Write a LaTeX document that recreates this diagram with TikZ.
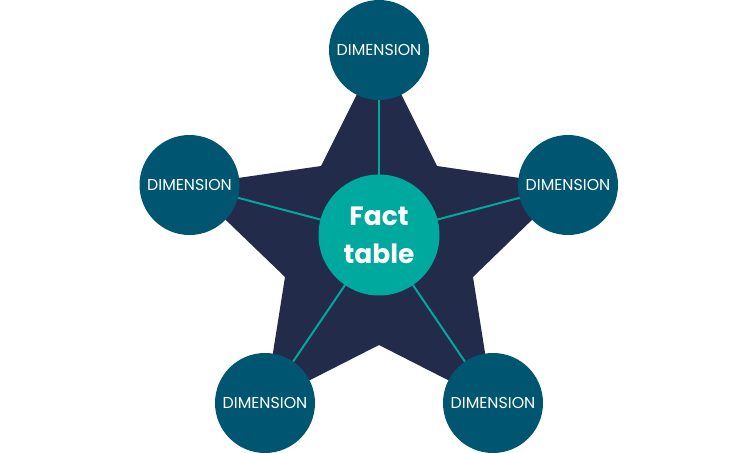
\documentclass[tikz,border=0pt]{standalone}
\usepackage{fontspec}
\setmainfont{Poppins}
\usetikzlibrary{backgrounds}
\definecolor{starnavy}{HTML}{232B4A}
\definecolor{dimblue}{HTML}{005670}
\definecolor{factteal}{HTML}{00A99D}
\begin{document}
\begin{tikzpicture}
        [x=1pt,y=-1pt,
         dim/.style={circle,fill=dimblue,minimum size=100pt,inner sep=0pt,
           text=white,font=\fontsize{15.8}{18}\selectfont},
         fact/.style={circle,fill=factteal,minimum size=121pt,inner sep=0pt,
           text=white,align=center,font=\fontsize{26.5}{38}\selectfont\bfseries},
         link/.style={draw=factteal,line width=2pt}]
        \useasboundingbox (0,0) rectangle (756,453);

        \node[fact] (fact) at (379,235) {Fact\\table};
        \node[dim] (dtop) at (379,50) {DIMENSION};
        \node[dim] (dleft) at (189.5,185) {DIMENSION};
        \node[dim] (dright) at (568,185) {DIMENSION};
        \node[dim] (dbl) at (265,403) {DIMENSION};
        \node[dim] (dbr) at (493,403) {DIMENSION};

        \begin{pgfonlayer}{background}
        \fill[starnavy] (dtop.center) -- (437,166) -- (dright.center)
          -- (473,277) -- (dbr.center) -- (379,345) -- (dbl.center)
          -- (285,277) -- (dleft.center) -- (321,166) -- cycle;
        \foreach \d in {dtop,dleft,dright,dbl,dbr}
        {\draw[link] (fact.center) -- (\d.center);}
        \end{pgfonlayer}
      \end{tikzpicture}
\end{document}
